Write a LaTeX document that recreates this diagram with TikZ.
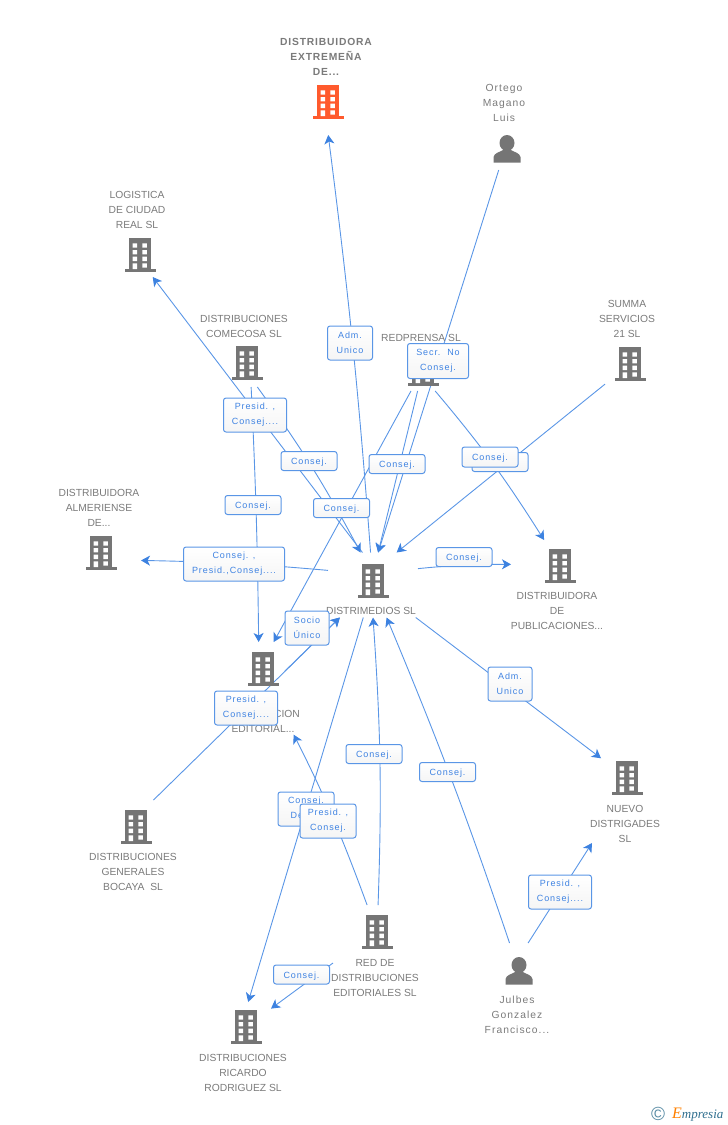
\documentclass[tikz,border=0pt]{standalone}
\usepackage{fontspec}
\setmainfont{Liberation Sans}
\newfontfamily\linkfont[LetterSpace=10]{Liberation Sans}
\newfontfamily\personfont[LetterSpace=10]{Liberation Sans}
\newfontfamily\boldfont[LetterSpace=8]{Liberation Sans Bold}
\newfontfamily\logofont{Liberation Serif Italic}
\usetikzlibrary{arrows.meta, bending}

\definecolor{linkblue}{HTML}{5A96E6}
\definecolor{tipblue}{HTML}{3D82E0}
\definecolor{linktext}{HTML}{3F83E2}
\definecolor{icongray}{HTML}{757575}
\definecolor{labelgray}{HTML}{7A7A7A}
\definecolor{mainred}{HTML}{FF5A2D}
\definecolor{logoblue}{HTML}{2E6E8E}

\tikzset{
  hub/.style={inner sep=0pt,outer sep=0pt},
  conn/.style={draw=linkblue,line width=.9pt,-{Stealth[length=9pt,width=10pt,inset=2.5pt,color=tipblue]}},
  iconlabel/.style={text=labelgray,align=center,font=\fontsize{10.3}{15}\selectfont,inner sep=0pt},
  linkbox/.style={draw=linkblue,line width=1pt,rounded corners=2.5pt,top color=white,bottom color=black!4,
    text=linktext,align=center,font=\fontsize{9}{15}\selectfont\linkfont,inner sep=0pt,
    execute at begin node={\rule{0pt}{9pt}}},
  building/.pic={
    \fill[pic actions] (-11,-17) rectangle (11,14);
    \fill[pic actions] (-15.5,14) rectangle (15.5,17);
    \foreach \wy in {-11.7,-5,1.7}
      \fill[white] (-7.3,\wy) rectangle ++(4.4,4.4) (2.3,\wy) rectangle ++(4.6,4.4);
    \fill[white] (-7.3,8.3) rectangle (-2.9,14) (2.3,8.3) rectangle (6.9,12.7);
  },
  person/.pic={
    \fill[pic actions] (0,-6) ellipse (7.5 and 8);
    \fill[pic actions] (-13.5,13.5) -- (-13.5,8) .. controls (-13,4) and (-7,3) .. (-4,1)
      -- (4,1) .. controls (7,3) and (13,4) .. (13.5,8) -- (13.5,13.5) -- cycle;
  },
}

\begin{document}
\begin{tikzpicture}[x=1pt,y=-1pt]
  \useasboundingbox (0,0) rectangle (728,1125);

  % hubs the links run between
  \foreach \nm/\x/\y/\w/\h in {
    extremena/324/102/40/66, ortego/505/150/40/40, logistica/136/255/40/44,
    comecosa/250/363/40/48, redprensa/423/369/40/44, summa/630/364/50/42,
    almeriense/101/560/80/40, distrimedios/373/585/90/65, publicaciones/560/566/98/52,
    edicion/259/669/60/54, bocaya/126/827/60/54, nuevo/627/778/52/50,
    redes/377/932/60/54, julbes/519/971/40/56, ricardo/246/1027/50/50}
    \node[hub,minimum width=\w,minimum height=\h] (\nm) at (\x,\y) {};

  \coordinate (edicionOut) at (285,671);
  \coordinate (nuevoIn) at (592,843);
  \coordinate (redesOut) at (333,963);

  % links
  \draw[conn] (distrimedios) to[bend right=1.5] (extremena);
  \draw[conn] (ortego) -- (distrimedios.81);
  \draw[conn] (distrimedios.108) -- (logistica);
  \draw[conn] (comecosa.-73) to[bend left=4] (distrimedios.111);
  \draw[conn] (comecosa) to[bend left=1] (edicion);
  \draw[conn] (redprensa) -- (distrimedios.81);
  \draw[conn] (redprensa) -- (edicion);
  \draw[conn] (redprensa.-61) to[bend left=4] (publicaciones);
  \draw[conn] (summa) -- (distrimedios.54);
  \draw[conn] (distrimedios.162) to[bend right=2] (almeriense);
  \draw[conn] (distrimedios.20) to[bend left=3] (publicaciones);
  \draw[conn] (edicionOut) -- (distrimedios);
  \draw[conn] (bocaya) -- (distrimedios);
  \draw[conn] (distrimedios) -- (nuevo);
  \draw[conn] (distrimedios) -- (ricardo.85);
  \draw[conn,shorten >=46pt] (redes) to[bend right=4] (edicion);
  \draw[conn] (redes) to[bend right=3] (distrimedios.-90);
  \draw[conn] (redesOut) -- (ricardo);
  \draw[conn] (julbes) to[bend right=2] (distrimedios);
  \draw[conn] (julbes.72) -- (nuevoIn);

  % icons and their texts
  \foreach \nm/\x/\y/\lx/\ly/\col/\txt in {
    logistica/140/255/137/210/icongray/{LOGISTICA\\DE CIUDAD\\REAL SL},
    comecosa/247/363/244/326/icongray/{DISTRIBUCIONES\\COMECOSA SL},
    redprensa/423/369/421/338/icongray/{REDPRENSA SL},
    summa/630/364/627/319/icongray/{SUMMA\\SERVICIOS\\21 SL},
    almeriense/101/553/99/508/icongray/{DISTRIBUIDORA\\ALMERIENSE\\DE...},
    distrimedios/373/581/371/611/icongray/{DISTRIMEDIOS SL},
    publicaciones/560/566/557/611/icongray/{DISTRIBUIDORA\\DE\\PUBLICACIONES...},
    edicion/263/669/263/721/icongray/{DISTRIBUCION\\EDITORIAL...},
    bocaya/136/827/133/872/icongray/{DISTRIBUCIONES\\GENERALES\\BOCAYA\ \ SL},
    nuevo/627/778/625/824/icongray/{NUEVO\\DISTRIGADES\\SL},
    redes/377/932/375/978/icongray/{RED DE\\DISTRIBUCIONES\\EDITORIALES SL},
    ricardo/246/1027/243/1073/icongray/{DISTRIBUCIONES\\RICARDO\\RODRIGUEZ SL}}
  {
    \pic[fill=\col] at (\x,\y) {building};
    \node[iconlabel] (\nm-lbl) at (\lx,\ly) {\txt};
  }
  \pic[fill=mainred] at (328,102) {building};
  \node[iconlabel,font=\fontsize{10.3}{15}\selectfont\boldfont] (extremena-lbl) at (326,57) {DISTRIBUIDORA\\EXTREMEÑA\\DE...};
  \pic[fill=icongray] at (507,149) {person};
  \node[iconlabel,font=\fontsize{10.3}{15}\selectfont\personfont] (ortego-lbl) at (504,103) {Ortego\\Magano\\Luis};
  \pic[fill=icongray] at (519,971) {person};
  \node[iconlabel,font=\fontsize{10.3}{15}\selectfont\personfont] (julbes-lbl) at (517,1015) {Julbes\\Gonzalez\\Francisco...};

  % boxes on the links, last one on top
  \foreach \nm/\x/\y/\w/\h/\txt in {
    admA/350/343/45/34/{Adm.\\Unico},
    secr/438/361/61/35/{Secr.\ \ No\\Consej.},
    presA/255/415/63/34/{Presid. ,\\Consej....},
    consA/309/461/56/19/{Consej.},
    consB/397/464/56/19/{Consej.},
    consC/500/462/56/19/{Consej.},
    consD/490/457/56/20/{Consej.},
    consE/253/505/56/19/{Consej.},
    consF/341.5/508/56/19/{Consej.},
    consPres/234/564/101/34/{Consej. ,\\Presid.,Consej....},
    consG/464/557/56/19/{Consej.},
    socio/307/628/44/34/{Socio\\Único},
    presB/246/708/63/34/{Presid. ,\\Consej....},
    admB/510/684/44/34/{Adm.\\Unico},
    consH/374/754/56/19/{Consej.},
    consI/447.5/772/56/19/{Consej.},
    consDel/306/809/56/34/{Consej.\\Deleg.},
    presC/328/821/56/34/{Presid. ,\\Consej.},
    presD/560/892/63/34/{Presid. ,\\Consej....},
    consJ/301.5/974.5/56/19/{Consej.}}
    \node[linkbox,minimum width=\w,minimum height=\h] (\nm) at (\x,\y) {\txt};

  % logo
  \node[inner sep=0pt,text=logoblue!80,font=\fontsize{19}{19}\selectfont] (copy) at (658,1114) {©};
  \node[inner sep=0pt,anchor=west,font=\fontsize{13}{15}\selectfont\logofont,text=logoblue] (brand) at (672,1115)
    {\textcolor{orange}{\fontsize{16}{15}\selectfont E}mpresia};
\end{tikzpicture}
\end{document}
